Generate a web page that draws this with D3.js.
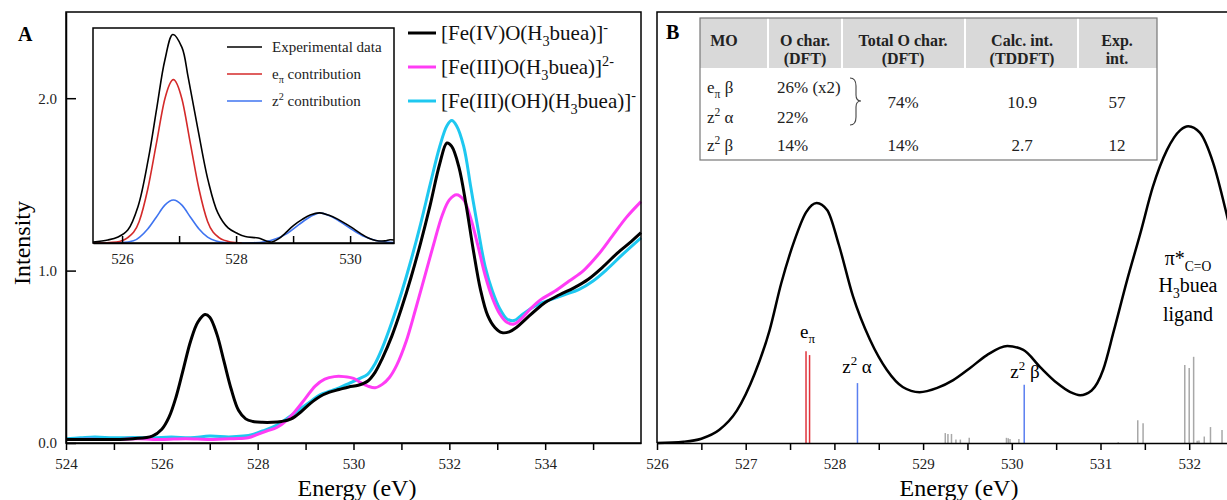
<!DOCTYPE html>
<html lang="en">
<head>
<meta charset="UTF-8">
<title>O K-edge XAS</title>
<script src="https://cdn.jsdelivr.net/npm/d3@7"></script>
<style>
body { margin: 0; background: #fff; }
.frame { fill: none; stroke: #000; stroke-width: 1.5; }
.axis path, .axis line { stroke: #000; stroke-width: 1.5; }
.axis text { font-size: 15px; fill: #222; }
</style>
</head>
<body>
<svg width="1227" height="500"></svg>
<script>
// ---- panel A : measured spectra [eV, intensity]
var feIV = [[524.0,0.02],[524.5,0.02],[525.0,0.02],[525.4,0.025],[525.8,0.04],[526.0,0.08],[526.15,0.15],
  [526.3,0.27],[526.45,0.43],[526.6,0.59],[526.75,0.7],[526.9,0.745],[527.0,0.73],[527.15,0.63],
  [527.3,0.47],[527.45,0.31],[527.6,0.19],[527.75,0.14],[527.9,0.125],[528.1,0.12],[528.3,0.12],[528.5,0.125],
  [528.7,0.14],[528.9,0.18],[529.1,0.23],[529.3,0.27],[529.5,0.295],[529.7,0.31],[529.9,0.325],
  [530.1,0.335],[530.3,0.36],[530.45,0.41],[530.6,0.49],[530.8,0.62],[531.0,0.78],[531.2,0.96],
  [531.4,1.16],[531.6,1.38],[531.8,1.62],[531.95,1.74],[532.05,1.72],[532.2,1.6],[532.35,1.38],
  [532.5,1.12],[532.65,0.89],[532.8,0.74],[532.95,0.67],[533.1,0.64],[533.25,0.645],[533.4,0.67],
  [533.6,0.72],[533.8,0.77],[534.0,0.815],[534.3,0.86],[534.6,0.9],[534.9,0.95],[535.2,1.02],
  [535.5,1.1],[535.8,1.17],[536.0,1.22]];
var feIII = [[524.0,0.02],[524.5,0.022],[525.0,0.02],[525.5,0.024],[526.0,0.02],[526.5,0.025],[527.0,0.02],
  [527.5,0.025],[527.8,0.03],[528.0,0.05],[528.2,0.07],[528.4,0.09],[528.6,0.13],[528.8,0.19],
  [529.0,0.26],[529.2,0.33],[529.4,0.37],[529.6,0.385],[529.8,0.385],[530.0,0.375],[530.15,0.35],
  [530.3,0.33],[530.45,0.32],[530.6,0.34],[530.75,0.38],[530.9,0.45],[531.1,0.59],[531.3,0.78],
  [531.5,0.98],[531.7,1.18],[531.85,1.32],[532.0,1.41],[532.15,1.44],[532.3,1.41],[532.45,1.3],
  [532.6,1.14],[532.75,0.97],[532.9,0.84],[533.05,0.75],[533.2,0.7],[533.35,0.69],[533.5,0.72],
  [533.7,0.78],[533.9,0.83],[534.2,0.88],[534.5,0.94],[534.8,1.0],[535.1,1.09],[535.4,1.2],
  [535.7,1.31],[536.0,1.4]];
var feOH = [[524.0,0.025],[524.3,0.03],[524.6,0.035],[525.0,0.03],[525.4,0.032],[525.8,0.03],[526.2,0.035],
  [526.6,0.03],[527.0,0.04],[527.4,0.035],[527.7,0.04],[527.9,0.05],[528.1,0.07],[528.3,0.09],
  [528.5,0.12],[528.7,0.16],[528.9,0.2],[529.1,0.24],[529.3,0.28],[529.5,0.3],[529.7,0.32],
  [529.9,0.345],[530.1,0.37],[530.3,0.4],[530.45,0.46],[530.6,0.55],[530.8,0.7],[531.0,0.87],
  [531.2,1.06],[531.4,1.27],[531.6,1.5],[531.8,1.72],[531.95,1.84],[532.05,1.87],[532.15,1.84],
  [532.3,1.72],[532.45,1.48],[532.6,1.24],[532.75,1.02],[532.9,0.88],[533.05,0.78],[533.2,0.72],
  [533.35,0.71],[533.5,0.74],[533.7,0.78],[533.9,0.81],[534.1,0.83],[534.4,0.86],[534.7,0.89],
  [535.0,0.94],[535.3,1.01],[535.6,1.09],[536.0,1.19]];
var legendA = ["FeIV", "FeIII", "FeOH"];

// ---- inset : pre-edge fit
var insetExp = [[525.49,0.005],[525.75,0.014],[525.93,0.028],[526.1,0.06],[526.28,0.17],[526.46,0.39],
  [526.61,0.63],[526.75,0.85],[526.89,0.97],[527.05,0.91],[527.16,0.77],[527.33,0.53],[527.51,0.29],
  [527.68,0.14],[527.86,0.07],[528.02,0.045],[528.16,0.03],[528.39,0.023],[528.52,0.01],[528.63,0.005],
  [528.75,0.02],[528.86,0.045],[529.0,0.08],[529.16,0.11],[529.3,0.13],[529.47,0.14],[529.62,0.13],
  [529.79,0.11],[529.92,0.09],[530.04,0.07],[530.18,0.045],[530.32,0.023],[530.45,0.012],[530.61,0.01],
  [530.7,0.015],[530.77,0.014]];
var insetEpi = [[525.49,0],[525.9,0.005],[526.1,0.025],[526.3,0.1],[526.45,0.25],[526.6,0.46],[526.75,0.67],
  [526.9,0.76],[527.05,0.67],[527.2,0.46],[527.35,0.25],[527.5,0.1],[527.7,0.025],[527.9,0.005],[528.1,0]];
var insetZ2 = [[525.49,0],[526.0,0.002],[526.2,0.01],[526.45,0.065],[526.6,0.12],[526.75,0.176],[526.9,0.2],
  [527.05,0.176],[527.2,0.12],[527.35,0.065],[527.5,0.027],[527.65,0.009],[527.8,0.002],[528.0,0],
  [528.3,0.001],[528.5,0.006],[528.7,0.02],[528.9,0.045],[529.1,0.085],[529.3,0.122],[529.47,0.14],
  [529.65,0.125],[529.85,0.095],[530.05,0.06],[530.25,0.03],[530.45,0.012],[530.65,0.004],[530.77,0.002]];

// ---- panel B : TDDFT
var calcCurve = [[526.0,0],[526.3,0.003],[526.5,0.01],[526.7,0.03],[526.9,0.075],[527.1,0.16],[527.27,0.262],
  [527.4,0.37],[527.55,0.47],[527.68,0.535],[527.8,0.557],[527.92,0.54],[528.05,0.46],[528.21,0.34],
  [528.4,0.24],[528.59,0.17],[528.77,0.13],[528.96,0.118],[529.16,0.128],[529.34,0.146],[529.53,0.174],
  [529.72,0.204],[529.95,0.225],[530.13,0.216],[530.32,0.176],[530.51,0.139],[530.66,0.118],
  [530.77,0.111],[530.9,0.122],[531.03,0.17],[531.15,0.26],[531.3,0.378],[531.45,0.487],[531.59,0.594],
  [531.75,0.68],[531.9,0.726],[531.99,0.735],[532.12,0.72],[532.27,0.65],[532.43,0.524],[532.6,0.37]];
var epiSticks = [[527.68,0.213],[527.72,0.204]];
var z2Sticks = [[528.26,0.139],[530.14,0.135]];
var ligSticks = [[529.25,0.023],[529.28,0.021],[529.32,0.021],[529.37,0.008],[529.42,0.008],[529.52,0.012],
  [529.94,0.012],[529.96,0.011],[529.98,0.009],[530.08,0.009],[531.2,0.002],[531.42,0.053],[531.48,0.046],
  [531.95,0.181],[532.0,0.174],[532.05,0.2],[532.09,0.005],[532.11,0.006],[532.17,0.015],[532.24,0.037],
  [532.37,0.03]];

var tableHead = [["MO"], ["O char.", "(DFT)"], ["Total O char.", "(DFT)"], ["Calc. int.", "(TDDFT)"], ["Exp.", "int."]];
var rowMO = [[["e"], ["π", "sub"], [" β"]], [["z"], ["2", "sup"], [" α"]], [["z"], ["2", "sup"], [" β"]]];
var rowOchar = ["26% (x2)", "22%", "14%"];
var rowTotal = ["74%", "14%"];
var rowCalc = ["10.9", "2.7"];
var rowExp = ["57", "12"];

var SERIF = "'Liberation Serif', 'Times New Roman', Times, serif";
var svg = d3.select("svg");

function rich(t, parts, size) {
  var shift = 0;
  parts.forEach(function(p) {
    var s = p[1] === "sub" ? size * 0.28 : p[1] === "sup" ? -size * 0.4 : 0;
    t.append("tspan").attr("dy", s - shift).attr("font-size", p[1] ? size * 0.68 : size).text(p[0]);
    shift = s;
  });
  return t;
}

// ================= panel A
var xA = d3.scaleLinear().domain([524, 536]).range([66, 641]);
var yA = d3.scaleLinear().domain([0, 2.5]).range([443, 12]);
var lineA = d3.line().x(function(d) { return xA(d[0]); }).y(function(d) { return yA(d[1]); }).curve(d3.curveCatmullRom);

var colA = { FeIV: "#000", FeIII: "#ff3cf5", FeOH: "#1ec8f0" };
var dataA = { FeIV: feIV, FeIII: feIII, FeOH: feOH };
["FeOH", "FeIII", "FeIV"].forEach(function(k) {
  svg.append("path").attr("d", lineA(dataA[k])).attr("fill", "none")
    .attr("stroke", colA[k]).attr("stroke-width", 3);
});

svg.append("g").attr("class", "axis").attr("transform", "translate(0,443)")
  .call(d3.axisBottom(xA).tickValues(d3.range(524, 536, 1)).tickSize(7).tickPadding(8).tickSizeOuter(0)
    .tickFormat(function(d) { return d % 2 === 0 ? d : ""; }));
svg.append("g").attr("class", "axis").attr("transform", "translate(66,0)")
  .call(d3.axisLeft(yA).tickValues([0, 1, 2]).tickSize(-10).tickPadding(9).tickSizeOuter(0).tickFormat(d3.format(".1f")));
svg.append("rect").attr("class", "frame").attr("x", 66).attr("y", 12).attr("width", 575).attr("height", 431);

svg.append("text").attr("x", 357).attr("y", 496).attr("text-anchor", "middle").attr("font-size", 24).text("Energy (eV)");
svg.append("text").attr("transform", "translate(30,243) rotate(-90)").attr("text-anchor", "middle")
  .attr("font-size", 24).text("Intensity");
svg.append("text").attr("x", 18).attr("y", 41).attr("font-size", 20).attr("font-weight", "bold").text("A");

// legend
var legTxt = {
  FeIV: [["[Fe(IV)O(H"], ["3", "sub"], ["buea)]"], ["-", "sup"]],
  FeIII: [["[Fe(III)O(H"], ["3", "sub"], ["buea)]"], ["2-", "sup"]],
  FeOH: [["[Fe(III)(OH)(H"], ["3", "sub"], ["buea)]"], ["-", "sup"]]
};
legendA.forEach(function(k, i) {
  var y = 33 + i * 34;
  svg.append("line").attr("x1", 408).attr("x2", 436).attr("y1", y).attr("y2", y)
    .attr("stroke", colA[k]).attr("stroke-width", 3);
  rich(svg.append("text").attr("x", 441).attr("y", y + 7).attr("fill", "#111"), legTxt[k], 21);
});

// ================= inset
var xI = d3.scaleLinear().domain([525.49, 530.77]).range([93, 394]);
var yI = d3.scaleLinear().domain([0, 1]).range([243, 28]);
var lineI = d3.line().x(function(d) { return xI(d[0]); }).y(function(d) { return yI(d[1]); });
svg.append("rect").attr("x", 93).attr("y", 28).attr("width", 301).attr("height", 215).attr("fill", "#fff");
svg.append("path").attr("d", lineI.curve(d3.curveMonotoneX)(insetZ2)).attr("fill", "none").attr("stroke", "#3f74f0").attr("stroke-width", 1.6);
svg.append("path").attr("d", lineI.curve(d3.curveMonotoneX)(insetEpi)).attr("fill", "none").attr("stroke", "#d42a2a").attr("stroke-width", 1.6);
svg.append("path").attr("d", lineI.curve(d3.curveCatmullRom)(insetExp)).attr("fill", "none").attr("stroke", "#000").attr("stroke-width", 1.6);
svg.append("g").attr("class", "axis").attr("transform", "translate(0,243)")
  .call(d3.axisBottom(xI).tickValues([526, 527, 528, 529, 530]).tickSize(-7).tickPadding(10).tickSizeOuter(0)
    .tickFormat(function(d) { return d % 2 === 0 ? d : ""; }));
svg.append("rect").attr("class", "frame").attr("x", 93).attr("y", 28).attr("width", 301).attr("height", 215);

var insetLeg = [
  ["#000", [["Experimental data"]]],
  ["#d42a2a", [["e"], ["π", "sub"], [" contribution"]]],
  ["#3f74f0", [["z"], ["2", "sup"], [" contribution"]]]
];
insetLeg.forEach(function(l, i) {
  var y = 47 + i * 27;
  svg.append("line").attr("x1", 227).attr("x2", 262).attr("y1", y).attr("y2", y).attr("stroke", l[0]).attr("stroke-width", 1.6);
  rich(svg.append("text").attr("x", 272).attr("y", y + 5).attr("fill", "#222"), l[1], 15);
});

// ================= panel B
var xB = d3.scaleLinear().domain([526, 533]).range([657, 657 + 7 * 88.7]);
var yB = d3.scaleLinear().domain([0, 1]).range([443, 12]);

function sticks(data, color) {
  svg.append("g").selectAll("line").data(data).enter().append("line")
    .attr("x1", function(d) { return xB(d[0]); }).attr("x2", function(d) { return xB(d[0]); })
    .attr("y1", yB(0)).attr("y2", function(d) { return yB(d[1]); })
    .attr("stroke", color).attr("stroke-width", 1.5);
}
sticks(ligSticks, "#a8a8a8");
sticks(epiSticks, "#e0343c");
sticks(z2Sticks, "#5a7ff0");

var lineB = d3.line().x(function(d) { return xB(d[0]); }).y(function(d) { return yB(d[1]); }).curve(d3.curveMonotoneX);
svg.append("path").attr("d", lineB(calcCurve)).attr("fill", "none").attr("stroke", "#000").attr("stroke-width", 2.5);

svg.append("g").attr("class", "axis").attr("transform", "translate(0,443)")
  .call(d3.axisBottom(xB).tickValues(d3.range(526, 532.01, 0.5)).tickSize(7).tickPadding(8).tickSizeOuter(0)
    .tickFormat(function(d) { return d % 1 === 0 ? d : ""; }));
svg.append("path").attr("class", "frame").attr("d", "M1230,12H657V443");
svg.append("text").attr("x", 959).attr("y", 496).attr("text-anchor", "middle").attr("font-size", 24).text("Energy (eV)");
svg.append("text").attr("x", 666).attr("y", 39).attr("font-size", 20).attr("font-weight", "bold").text("B");

// peak labels
rich(svg.append("text").attr("x", 800).attr("y", 338), [["e"], ["π", "sub"]], 19);
rich(svg.append("text").attr("x", 857).attr("y", 373).attr("text-anchor", "middle"), [["z"], ["2", "sup"], [" α"]], 19);
rich(svg.append("text").attr("x", 1025).attr("y", 378).attr("text-anchor", "middle"), [["z"], ["2", "sup"], [" β"]], 19);
rich(svg.append("text").attr("x", 1188).attr("y", 265).attr("text-anchor", "middle"), [["π*"], ["C=O", "sub"]], 20);
rich(svg.append("text").attr("x", 1188).attr("y", 292).attr("text-anchor", "middle"), [["H"], ["3", "sub"], ["buea"]], 20);
svg.append("text").attr("x", 1188).attr("y", 321).attr("text-anchor", "middle").attr("font-size", 20).text("ligand");

// ================= table
var tb = svg.append("g").attr("font-size", 17).attr("fill", "#222");
tb.append("rect").attr("x", 700).attr("y", 18).attr("width", 457).attr("height", 142).attr("fill", "#fff");
tb.append("rect").attr("x", 700).attr("y", 18).attr("width", 457).attr("height", 50).attr("fill", "#d9d9d9");
[768, 842, 965, 1078].forEach(function(x) {
  tb.append("line").attr("x1", x).attr("x2", x).attr("y1", 18).attr("y2", 68).attr("stroke", "#fff").attr("stroke-width", 2);
});
tb.append("rect").attr("x", 700).attr("y", 18).attr("width", 457).attr("height", 142)
  .attr("fill", "none").attr("stroke", "#777").attr("stroke-width", 1.2);
var headX = [724, 805, 903, 1022, 1117];
tableHead.forEach(function(h, i) {
  h.forEach(function(s, j) {
    tb.append("text").attr("x", headX[i]).attr("y", 46 + j * 18).attr("text-anchor", "middle")
      .attr("font-weight", "bold").attr("font-size", 16).text(s);
  });
});
var rowY = [93, 123, 151];
rowMO.forEach(function(p, i) { rich(tb.append("text").attr("x", 707).attr("y", rowY[i]), p, 17); });
rowOchar.forEach(function(s, i) { tb.append("text").attr("x", 777).attr("y", rowY[i]).text(s); });
[[rowTotal, 903], [rowCalc, 1022], [rowExp, 1117]].forEach(function(c) {
  tb.append("text").attr("x", c[1]).attr("y", 108).attr("text-anchor", "middle").text(c[0][0]);
  tb.append("text").attr("x", c[1]).attr("y", rowY[2]).attr("text-anchor", "middle").text(c[0][1]);
});
tb.append("path").attr("d", "M850,78Q856,78 856,86V95Q856,101 861,101Q856,101 856,107V117Q856,125 850,125")
  .attr("fill", "none").attr("stroke", "#444").attr("stroke-width", 1.1);

svg.selectAll("text").attr("font-family", SERIF);
</script>
</body>
</html>
